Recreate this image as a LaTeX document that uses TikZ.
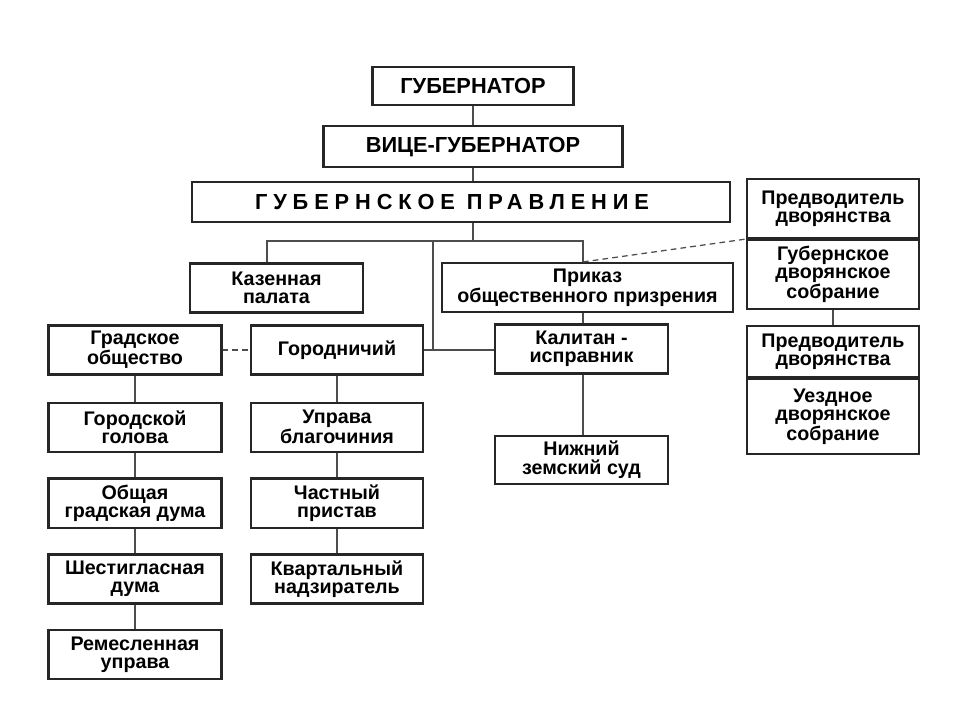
\documentclass[tikz,border=0pt]{standalone}
\usepackage{fontspec}
\setmainfont{Liberation Sans}
\newfontfamily\spacedfont[LetterSpace=27]{Liberation Sans}
\usepackage{tikz}
\usetikzlibrary{positioning}
\definecolor{boxink}{HTML}{262626}
\definecolor{linkgray}{HTML}{4D4D4D}
\newcommand{\unitfont}{\fontsize{14}{13}\selectfont\bfseries}
\newcommand{\headfont}{\fontsize{15.5}{15}\selectfont\bfseries}

\begin{document}
\begin{tikzpicture}[
  x=0.025cm, y=-0.025cm,
  node distance=0.62cm,
  unit/.style={draw=boxink, line width=1.5pt, minimum width=4.325cm, minimum height=1.225cm, align=center, inner sep=2pt, font=\unitfont},
  head/.style={draw=boxink, line width=1.5pt, minimum width=5.025cm, minimum height=0.95cm, align=center, font=\headfont},
  link/.style={draw=linkgray, line width=1pt},
  dotlink/.style={draw=linkgray, line width=0.9pt, dash pattern=on 4pt off 3pt}
]
\fill[white] (0,0) rectangle (960,720);
\useasboundingbox (0,0) rectangle (960,720);

% top of the hierarchy
\node[head] (gub) at (473,86) {ГУБЕРНАТОР};
\node[head, minimum width=7.475cm, minimum height=1.025cm, below=0.475cm of gub] (vice) {ВИЦЕ-ГУБЕРНАТОР};
\node[head, minimum width=13.45cm, minimum height=1cm, font=\headfont\spacedfont] (prav) at (461,202) {ГУБЕРНСКОЕ ПРАВЛЕНИЕ\hspace*{0.45cm}};

% branches
\coordinate (busL) at (267,241);
\coordinate (busM) at (433,241);
\coordinate (busR) at (583,241);
\node[unit] (kaz) at (276.5,288) {Казенная\\палата};
\node[unit, minimum width=7.275cm] (prikaz) at (587.5,287.5) {Приказ\\общественного призрения};
\node[unit] (grad) at (135,350) {Градское\\общество};
\node[unit, minimum width=4.3cm] (gorodn) at (337,350) {Городничий};
\node[unit] (kapitan) at (581.5,349) {Калитан -\\исправник};
\node[unit, minimum height=1.2cm, below=1.5cm of kapitan] (nizh) {Нижний\\земский суд};

% city column
\node[unit, below=0.65cm of grad] (golova) {Городской\\голова};
\node[unit, below=of golova] (duma) {Общая\\градская дума};
\node[unit, below=of duma] (shest) {Шестигласная\\дума};
\node[unit, below=of shest] (rem) {Ремесленная\\управа};

% police column
\node[unit, minimum width=4.3cm, below=0.65cm of gorodn] (uprava) {Управа\\благочиния};
\node[unit, minimum width=4.3cm, below=of uprava] (chast) {Частный\\пристав};
\node[unit, minimum width=4.3cm, below=of chast] (kvart) {Квартальный\\надзиратель};

% nobility
\node[unit, minimum width=4.3cm, minimum height=1.475cm] (pred1) at (833,208.5) {Предводитель\\дворянства};
\node[unit, minimum width=4.3cm, minimum height=1.725cm, below=0pt of pred1] (gubsobr) {Губернское\\дворянское\\собрание};
\node[unit, minimum width=4.3cm, minimum height=1.275cm, below=0.375cm of gubsobr] (pred2) {Предводитель\\дворянства};
\node[unit, minimum width=4.3cm, minimum height=1.875cm, below=0pt of pred2] (uezd) {Уездное\\дворянское\\собрание};

\draw[link] (gub) -- (vice);
\draw[link] (vice) -- (vice |- prav.north);
\draw[link] (vice |- prav.south) -- (vice |- busL);
\draw[link] (kaz.north -| busL) -- (busL) -- (busR) -- (prikaz.north -| busR);
\draw[link] (busM) -- (busM |- gorodn.east);
\draw[link] (gorodn) -- (gorodn -| kapitan.west);
\draw[link] (prikaz.south -| busR) -- (kapitan.north -| busR);
\draw[link] (kapitan.south -| busR) -- (nizh.north -| busR);
\draw[link] (grad) -- (golova) (golova) -- (duma) (duma) -- (shest) (shest) -- (rem);
\draw[link] (gorodn) -- (uprava) (uprava) -- (chast) (chast) -- (kvart);
\draw[link] (gubsobr) -- (pred2);
\draw[dotlink] (grad) -- (gorodn);
\draw[dotlink] (prikaz.north -| busR) -- (pred1.south west);
\end{tikzpicture}
\end{document}
